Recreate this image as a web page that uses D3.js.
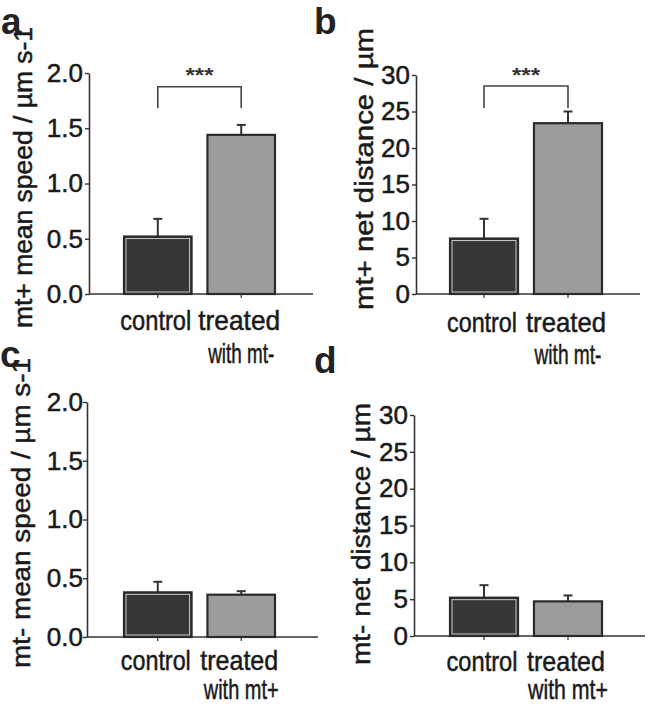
<!DOCTYPE html>
<html><head><meta charset="utf-8">
<script src="https://cdn.jsdelivr.net/npm/d3@7"></script>
<style>body{margin:0;background:#fff} svg{display:block;font-family:"Liberation Sans",Arial,sans-serif}</style>
</head><body><svg id="chart" width="650" height="706"></svg>
<script>
// ---- data ----
const panelLetters = ["a", "b", "c", "d"];
const yLabels = ["mt+ mean speed / µm s-1", "mt+ net distance / µm", "mt- mean speed / µm s-1", "mt- net distance / µm"];
const categoriesTop = ["control", "treated|with mt-"];
const categoriesBottom = ["control", "treated|with mt+"];
const speedTicks = [0, 0.5, 1.0, 1.5, 2.0];
const distanceTicks = [0, 5, 10, 15, 20, 25, 30];
const speedMtPlus = [0.52, 1.44];
const speedMtPlusErr = [0.16, 0.09];
const distMtPlus = [7.6, 23.4];
const distMtPlusErr = [2.7, 1.6];
const speedMtMinus = [0.38, 0.36];
const speedMtMinusErr = [0.09, 0.03];
const distMtMinus = [5.2, 4.7];
const distMtMinusErr = [1.7, 0.8];
const significance = ["***", "***", "", ""];

// ---- layout ----
const layout = [
  {ax: 89, ar: 313, y0: 294, yTop: 73, b0: 124, b1: 275, letter: [1, 33.5], ylab: [32, 177.5, 301], tp: 2,
   cat: [330, 363], catW: [71, 82, 66], brY: [86.7, 108], star: 81.5},
  {ax: 416, ar: 640, y0: 294, yTop: 75, b0: 450, b1: 602, letter: [314, 33.5], ylab: [373, 169, 282], tp: 2,
   cat: [332, 364], catW: [70, 80, 67], brY: [86, 108], star: 81.5},
  {ax: 87, ar: 318, y0: 637, yTop: 402, b0: 124, b1: 275, letter: [0, 367], ylab: [30, 513, 310], tp: 0,
   cat: [670, 699], catW: [70, 78, 75], brY: null, star: 0},
  {ax: 414, ar: 645, y0: 636, yTop: 415, b0: 450, b1: 602, letter: [314, 373], ylab: [370, 534, 262], tp: 2,
   cat: [671, 699], catW: [71, 78, 80], brY: null, star: 0}
];

const svg = d3.select("#chart");
const dark = "#333333";
const ink = "#1a1a1a";
const fills = ["#363636", "#9c9c9e"];

const panels = [
  {means: speedMtPlus, errs: speedMtPlusErr, ticks: speedTicks, fmt: d3.format(".1f"), cats: categoriesTop},
  {means: distMtPlus, errs: distMtPlusErr, ticks: distanceTicks, fmt: d3.format("d"), cats: categoriesTop},
  {means: speedMtMinus, errs: speedMtMinusErr, ticks: speedTicks, fmt: d3.format(".1f"), cats: categoriesBottom},
  {means: distMtMinus, errs: distMtMinusErr, ticks: distanceTicks, fmt: d3.format("d"), cats: categoriesBottom}
];

function heavy(sel) { return sel.attr("fill", ink).attr("stroke", ink).attr("stroke-width", 0.5); }

panels.forEach((P, i) => {
  const L = layout[i];
  const g = svg.append("g");
  const y = d3.scaleLinear().domain([0, P.ticks[P.ticks.length - 1]]).range([L.y0, L.yTop]);
  const pi = 0.19, po = 0.2;
  const step = (L.b1 - L.b0) / (2 - pi);
  const x = d3.scaleBand().domain(P.cats).range([L.b0 - po * step, L.b1 + po * step]).paddingInner(pi).paddingOuter(po);
  const bw = x.bandwidth();

  // y axis
  const yAxis = g.append("g").attr("transform", `translate(${L.ax},0)`)
    .call(d3.axisLeft(y).tickValues(P.ticks).tickFormat(P.fmt).tickSize(4).tickSizeOuter(0).tickPadding(L.tp));
  yAxis.select(".domain").attr("stroke", dark).attr("stroke-width", 1.6);
  yAxis.selectAll(".tick line").attr("stroke", dark).attr("stroke-width", 1.4);
  heavy(yAxis.selectAll(".tick text").attr("font-size", 26).attr("font-family", "'Liberation Sans',Arial,sans-serif"));

  // x axis line
  g.append("line").attr("x1", L.ax).attr("x2", L.ar).attr("y1", L.y0).attr("y2", L.y0)
    .attr("stroke", dark).attr("stroke-width", 1.6);
  // x ticks
  g.selectAll(".xt").data(P.cats).enter().append("line")
    .attr("x1", d => x(d) + bw / 2).attr("x2", d => x(d) + bw / 2)
    .attr("y1", L.y0).attr("y2", L.y0 + 4).attr("stroke", dark).attr("stroke-width", 1.2);

  // error bars
  P.cats.forEach((c, j) => {
    const cx = x(c) + bw / 2;
    const top = y(P.means[j] + P.errs[j]);
    g.append("line").attr("x1", cx).attr("x2", cx).attr("y1", y(P.means[j])).attr("y2", top)
      .attr("stroke", dark).attr("stroke-width", 2);
    g.append("line").attr("x1", cx - 4.5).attr("x2", cx + 4.5).attr("y1", top).attr("y2", top)
      .attr("stroke", dark).attr("stroke-width", 2);
  });

  // bars
  g.selectAll(".bar").data(P.cats).enter().append("rect")
    .attr("x", d => x(d)).attr("width", bw)
    .attr("y", (d, j) => y(P.means[j])).attr("height", (d, j) => L.y0 - y(P.means[j]))
    .attr("fill", (d, j) => fills[j]).attr("stroke", "#2a2a2a").attr("stroke-width", 2.2);
  // inner highlight for control bar
  g.append("rect").attr("x", x(P.cats[0]) + 2).attr("width", bw - 4)
    .attr("y", y(P.means[0]) + 2).attr("height", L.y0 - y(P.means[0]) - 4)
    .attr("fill", "none").attr("stroke", "#c8c8c8").attr("stroke-width", 1);

  // category labels
  P.cats.forEach((c, j) => {
    const cx = x(c) + bw / 2;
    const lines = c.split("|");
    lines.forEach((ln, k) => {
      heavy(g.append("text").attr("x", cx + (k === 0 ? -2 : 0)).attr("y", L.cat[k])
        .attr("text-anchor", "middle").attr("font-size", 28)
        .attr("textLength", L.catW[j === 0 ? 0 : k + 1]).attr("lengthAdjust", "spacingAndGlyphs")
        .text(ln));
    });
  });

  // y label
  heavy(g.append("text").attr("transform", `translate(${L.ylab[0]},${L.ylab[1]}) rotate(-90)`)
    .attr("text-anchor", "middle").attr("font-size", 26)
    .attr("textLength", L.ylab[2]).attr("lengthAdjust", "spacingAndGlyphs")
    .text(yLabels[i]));

  // significance bracket
  if (significance[i] && L.brY) {
    const x1 = x(P.cats[0]) + bw / 2, x2 = x(P.cats[1]) + bw / 2;
    g.append("path").attr("d", `M${x1},${L.brY[1]}V${L.brY[0]}H${x2}V${L.brY[1]}`)
      .attr("fill", "none").attr("stroke", "#444").attr("stroke-width", 1.6);
    g.append("text").attr("x", (x1 + x2) / 2).attr("y", L.star).attr("text-anchor", "middle")
      .attr("font-size", 20).attr("font-weight", "bold").attr("fill", "#333")
      .attr("textLength", 28).attr("lengthAdjust", "spacingAndGlyphs").text(significance[i]);
  }

  // panel letter
  svg.append("text").attr("x", L.letter[0]).attr("y", L.letter[1])
    .attr("font-size", 37).attr("font-weight", "bold").attr("fill", "#222").text(panelLetters[i]);
});
</script>
</body></html>
